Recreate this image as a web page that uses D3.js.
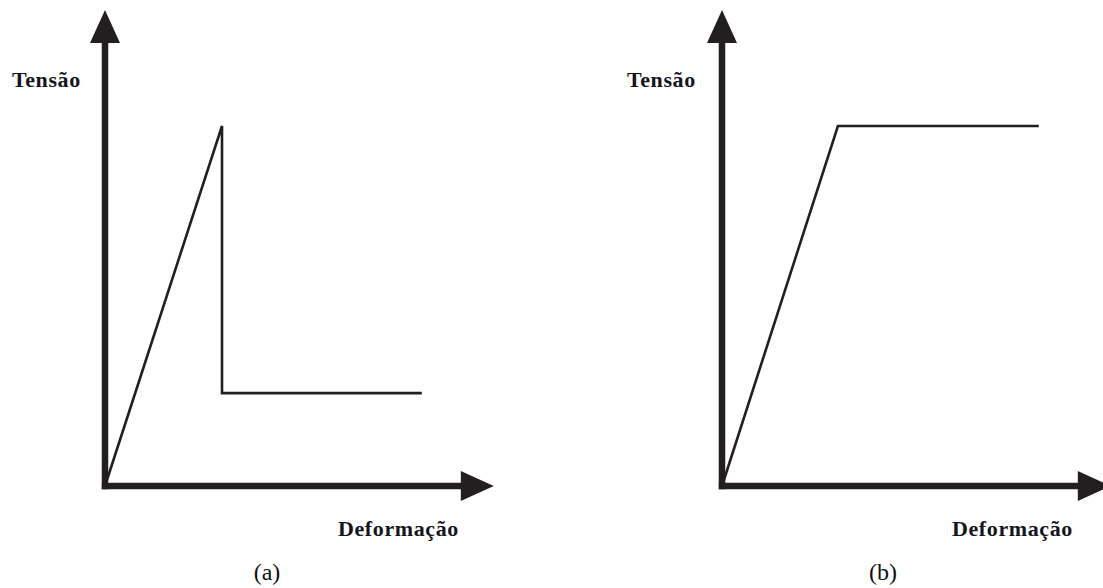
<!DOCTYPE html>
<html>
<head>
<meta charset="utf-8">
<script src="https://cdn.jsdelivr.net/npm/d3@7"></script>
<style>
html,body{margin:0;padding:0;background:#fff;overflow:hidden;}
svg{display:block;}
</style>
</head>
<body>
<svg id="chart" width="1103" height="588"></svg>
<script>
// Data (normalized strain / stress units)
const panelLabels = ["(a)", "(b)"];
const yAxisLabel = "Tensão";
const xAxisLabel = "Deformação";
// Panel (a): brittle-like curve — linear rise, sudden drop, residual plateau
const strainA = [0, 0.325, 0.325, 0.88];
const stressA = [0, 1.0, 0.258, 0.258];
// Panel (b): elastic–perfectly plastic curve
const strainB = [0, 0.322, 0.88];
const stressB = [0, 1.0, 1.0];

const axisMaxX = 1.08;   // where the x arrow tip sits
const axisMaxY = 1.322;  // where the y arrow tip sits

const svg = d3.select("#chart");
const ink = "#231f20";
const serif = "'Liberation Serif', 'Times New Roman', Times, serif";

function panel(originX, strain, stress, label, tLabelX, dLabelX, pLabelX) {
  const x = d3.scaleLinear().domain([0, 1]).range([originX, originX + 360]);
  const y = d3.scaleLinear().domain([0, 1]).range([486, 126]);
  const g = svg.append("g");
  const x0 = x(0), y0 = y(0);
  const xt = x(axisMaxX), yt = y(axisMaxY);
  const head = 33, half = 15;
  // axes lines
  g.append("line").attr("x1", x0).attr("x2", x0).attr("y1", y0 + 3.2).attr("y2", yt + head - 1)
    .attr("stroke", ink).attr("stroke-width", 6.5);
  g.append("line").attr("x1", x0 - 3.2).attr("x2", xt - head + 1).attr("y1", y0).attr("y2", y0)
    .attr("stroke", ink).attr("stroke-width", 6.5);
  // arrowheads
  g.append("path").attr("d", `M${x0},${yt} L${x0 - half},${yt + head} L${x0 + half},${yt + head} Z`).attr("fill", ink);
  g.append("path").attr("d", `M${xt},${y0} L${xt - head},${y0 - half} L${xt - head},${y0 + half} Z`).attr("fill", ink);
  // curve
  const pts = strain.map((s, i) => [s, stress[i]]);
  g.append("path").datum(pts)
    .attr("d", d3.line().x(d => x(d[0])).y(d => y(d[1])))
    .attr("fill", "none").attr("stroke", ink).attr("stroke-width", 2.6)
    .attr("stroke-linejoin", "miter");
  // labels
  g.append("text").attr("x", tLabelX).attr("y", 87).text(yAxisLabel)
    .style("font-family", serif).attr("font-weight", "bold")
    .attr("font-size", 22).attr("letter-spacing", 0.6).attr("fill", "#15151d");
  g.append("text").attr("x", dLabelX).attr("y", 536).text(xAxisLabel)
    .style("font-family", serif).attr("font-weight", "bold")
    .attr("font-size", 22).attr("letter-spacing", 0.6).attr("fill", "#15151d");
  g.append("text").attr("x", pLabelX).attr("y", 580).attr("text-anchor", "middle").text(label)
    .style("font-family", serif)
    .attr("font-size", 24).attr("fill", "#111");
}

panel(105, strainA, stressA, panelLabels[0], 12, 338, 267);
panel(722, strainB, stressB, panelLabels[1], 627, 952, 883);
</script>
</body>
</html>
